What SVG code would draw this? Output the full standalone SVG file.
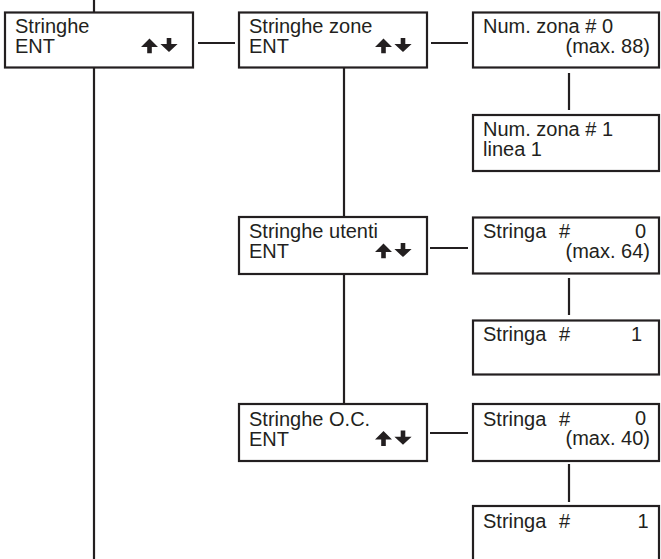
<svg xmlns="http://www.w3.org/2000/svg" xmlns:xlink="http://www.w3.org/1999/xlink" width="661" height="559" viewBox="0 0 661 559">
<style>
.box{fill:#fff;stroke:#231f20;stroke-width:2.2}
.ln{stroke:#231f20;stroke-width:2.2;fill:none}
text{font-family:"Liberation Sans",Arial,sans-serif;font-size:20px;fill:#231f20}
.r{text-anchor:end}
.ar{fill:#231f20}
</style>
<defs>
<g id="ud" class="ar">
<path d="M144.5,-14.2 L153,-5.8 L146.8,-5.8 L146.8,0.6 L142.2,0.6 L142.2,-5.8 L136,-5.8 Z"/>
<path d="M161.7,-14.8 L166.3,-14.8 L166.3,-8.6 L172.6,-8.6 L164,-0.6 L155.4,-8.6 L161.7,-8.6 Z"/>
</g>
</defs>
<rect width="661" height="559" fill="#fff"/>
<g id="connectors">
<line class="ln" x1="94" y1="0" x2="94" y2="12.5"/>
<line class="ln" x1="94" y1="67.5" x2="94" y2="559"/>
<line class="ln" x1="198" y1="43" x2="235" y2="43"/>
<line class="ln" x1="431" y1="43" x2="468" y2="43"/>
<line class="ln" x1="569" y1="73" x2="569" y2="110"/>
<line class="ln" x1="344" y1="67.5" x2="344" y2="217"/>
<line class="ln" x1="430" y1="248" x2="468" y2="248"/>
<line class="ln" x1="569" y1="278" x2="569" y2="315"/>
<line class="ln" x1="344" y1="274" x2="344" y2="404"/>
<line class="ln" x1="430" y1="433" x2="468" y2="433"/>
<line class="ln" x1="569" y1="464" x2="569" y2="502"/>
</g>
<g id="n1">
<rect class="box" x="5" y="12.5" width="188" height="55"/>
<text x="15" y="32.8">Stringhe</text>
<text x="15" y="52.8">ENT</text>
<use href="#ud" xlink:href="#ud" x="5" y="52.7"/>
</g>
<g id="n2">
<rect class="box" x="239" y="12.5" width="188" height="55"/>
<text x="249" y="32.8">Stringhe zone</text>
<text x="249" y="52.8">ENT</text>
<use href="#ud" xlink:href="#ud" x="239" y="52.7"/>
</g>
<g id="n3">
<rect class="box" x="473" y="12.5" width="186" height="55"/>
<text x="483" y="33">Num. zona # 0</text>
<text class="r" x="650" y="53">(max. 88)</text>
</g>
<g id="n4">
<rect class="box" x="473" y="115" width="186" height="56"/>
<text x="483" y="136">Num. zona # 1</text>
<text x="483" y="156">linea 1</text>
</g>
<g id="n5">
<rect class="box" x="239" y="217" width="188" height="57"/>
<text x="249" y="237.7">Stringhe utenti</text>
<text x="249" y="257.7">ENT</text>
<use href="#ud" xlink:href="#ud" x="239" y="257.7"/>
</g>
<g id="n6">
<rect class="box" x="473" y="217.5" width="186" height="56"/>
<text x="483" y="238">Stringa</text>
<text x="559" y="238">#</text>
<text class="r" x="646" y="237.5">0</text>
<text class="r" x="650" y="257.7">(max. 64)</text>
</g>
<g id="n7">
<rect class="box" x="473" y="320.5" width="186" height="54"/>
<text x="483" y="341">Stringa</text>
<text x="559" y="341">#</text>
<text class="r" x="642" y="341">1</text>
</g>
<g id="n8">
<rect class="box" x="239" y="404" width="188" height="57"/>
<text x="249" y="425.5">Stringhe O.C.</text>
<text x="249" y="445.5">ENT</text>
<use href="#ud" xlink:href="#ud" x="239" y="445.3"/>
</g>
<g id="n9">
<rect class="box" x="473" y="404" width="186" height="57"/>
<text x="483" y="425.7">Stringa</text>
<text x="559" y="425.7">#</text>
<text class="r" x="646" y="425.2">0</text>
<text class="r" x="650" y="445.3">(max. 40)</text>
</g>
<g id="n10">
<rect class="box" x="473" y="506" width="186" height="70"/>
<text x="483" y="528.3">Stringa</text>
<text x="559" y="528.3">#</text>
<text class="r" x="648.5" y="528.3">1</text>
</g>
</svg>
